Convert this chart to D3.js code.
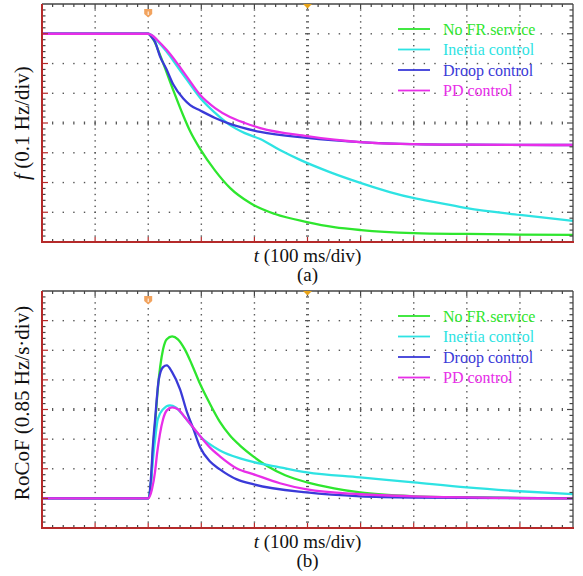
<!DOCTYPE html>
<html>
<head>
<meta charset="utf-8">
<script src="https://cdn.jsdelivr.net/npm/d3@7"></script>
<style>
  body { margin: 0; background: #fff; }
  svg { display: block; }
</style>
</head>
<body>
<svg id="chart" width="583" height="576"></svg>
<script>
// ---------- DATA (time in ms, value in divisions) ----------
const seriesNames = ["No FR service", "Inertia control", "Droop control", "PD control"];
const seriesColors = ["#2ee62e", "#2ee3e3", "#3a3ad8", "#e82ee8"];

// Panel (a): frequency, 0.1 Hz/div
const freqNoFR = [[0,7.0],[200,7.0],[205,6.92],[209,6.82],[213,6.70],[218,6.48],[228,6.02],[247,5.11],[266,4.25],[279,3.72],[298,3.12],[326,2.40],[354,1.82],[392,1.31],[439,0.94],[499,0.67],[550,0.50],[601,0.40],[700,0.30],[800,0.27],[900,0.25],[1000,0.24]];
const freqInertia = [[0,7.0],[200,7.0],[207,6.95],[217,6.76],[235,6.39],[254,5.92],[273,5.45],[298,4.84],[326,4.34],[354,3.93],[382,3.66],[411,3.46],[448,3.09],[486,2.76],[542,2.35],[601,1.98],[655,1.68],[699,1.48],[750,1.31],[800,1.14],[900,0.91],[1000,0.71]];
const freqDroop = [[0,7.0],[200,7.0],[205,6.92],[213,6.72],[222,6.25],[234,5.82],[247,5.30],[266,4.82],[279,4.60],[298,4.42],[326,4.17],[354,3.97],[411,3.70],[499,3.50],[599,3.36],[700,3.29],[800,3.27],[1000,3.26]];
const freqPD = [[0,7.0],[200,7.0],[207,6.95],[217,6.79],[235,6.45],[254,6.02],[273,5.55],[298,4.94],[326,4.50],[354,4.20],[382,4.00],[411,3.83],[499,3.56],[599,3.36],[700,3.29],[800,3.27],[1000,3.26]];

// Panel (b): RoCoF, 0.85 Hz/s/div
const rocofNoFR = [[0,1.0],[200,1.0],[205,1.47],[209,2.66],[213,3.51],[218,4.68],[228,6.03],[235,6.37],[245,6.47],[256,6.37],[269,6.03],[282,5.53],[298,4.85],[316,4.20],[335,3.58],[354,3.12],[373,2.78],[399,2.40],[424,2.09],[458,1.78],[499,1.54],[550,1.34],[599,1.20],[700,1.07],[800,1.03],[1000,1.0]];
const rocofInertia = [[0,1.0],[200,1.0],[205,1.47],[209,2.32],[213,2.99],[218,3.67],[228,4.01],[241,4.14],[252,4.07],[269,3.74],[298,3.09],[335,2.62],[373,2.35],[399,2.22],[448,2.05],[499,1.88],[599,1.71],[700,1.54],[800,1.37],[900,1.24],[1000,1.14]];
const rocofDroop = [[0,1.0],[200,1.0],[205,1.64],[209,2.82],[213,3.67],[220,5.02],[228,5.43],[235,5.49],[245,5.26],[260,4.68],[273,3.91],[284,3.40],[298,2.72],[316,2.25],[335,1.98],[367,1.64],[399,1.47],[499,1.20],[599,1.07],[700,1.03],[1000,1.0]];
const rocofPD = [[0,1.0],[200,1.0],[207,1.30],[213,1.91],[217,2.55],[222,3.16],[228,3.67],[235,3.97],[245,4.07],[256,4.01],[269,3.74],[292,3.23],[316,2.72],[335,2.42],[367,2.01],[399,1.81],[448,1.51],[499,1.30],[599,1.14],[700,1.07],[1000,1.0]];

const xLabel = "(100 ms/div)";
const yLabelA = "(0.1 Hz/div)";
const yLabelB = "RoCoF (0.85 Hz/s·div)";
const panelTags = ["(a)", "(b)"];

// ---------- DRAW ----------
const FONT = "'Liberation Serif', 'Times New Roman', Tinos, serif";
const svg = d3.select("#chart").attr("font-family", FONT);
const X0 = 42, X1 = 573;
const panels = [
  { top: 4, bottom: 242, data: [freqNoFR, freqInertia, freqDroop, freqPD], tag: panelTags[0], ylab: 123 },
  { top: 291, bottom: 528, data: [rocofNoFR, rocofInertia, rocofDroop, rocofPD], tag: panelTags[1], ylab: 403 }
];

const x = d3.scaleLinear().domain([0, 1000]).range([X0, X1]);
const minorX = d3.range(0, 1000.01, 20);
const minorY = d3.range(0, 8.001, 0.2);
const majorX = d3.range(0, 1000.01, 100);
const majorY = d3.range(0, 8.001, 1);

panels.forEach((p, pi) => {
  const y = d3.scaleLinear().domain([0, 8]).range([p.bottom, p.top]);
  const g = svg.append("g");

  // grid dots
  const dots = g.append("g").attr("fill", "#555");
  majorX.slice(1, -1).forEach(tv => {
    if (tv === 500) return;
    minorY.slice(1, -1).forEach(v => {
      dots.append("rect").attr("x", x(tv) - 0.65).attr("y", y(v) - 0.65).attr("width", 1.4).attr("height", 1.4);
    });
  });
  majorY.slice(1, -1).forEach(v => {
    if (v === 4) return;
    minorX.slice(1, -1).forEach(tv => {
      dots.append("rect").attr("x", x(tv) - 0.65).attr("y", y(v) - 0.65).attr("width", 1.4).attr("height", 1.4);
    });
  });
  // center cross
  minorY.slice(1, -1).forEach(v => {
    const w = (Math.abs(v - Math.round(v)) < 1e-6) ? 5 : 3;
    g.append("line").attr("x1", x(500) - w / 2).attr("x2", x(500) + w / 2)
      .attr("y1", y(v)).attr("y2", y(v)).attr("stroke", "#555").attr("stroke-width", 1.3);
  });
  minorX.slice(1, -1).forEach(tv => {
    const h = (tv % 100 === 0) ? 5 : 3;
    g.append("line").attr("x1", x(tv)).attr("x2", x(tv))
      .attr("y1", y(4) - h / 2).attr("y2", y(4) + h / 2).attr("stroke", "#555").attr("stroke-width", 1.3);
  });

  // traces
  const line = d3.line().x(d => x(d[0])).y(d => y(d[1])).curve(d3.curveMonotoneX);
  p.data.forEach((s, si) => {
    g.append("path").datum(s).attr("d", line).attr("fill", "none")
      .attr("stroke", seriesColors[si]).attr("stroke-width", 2.3).attr("stroke-linejoin", "round");
  });

  // frame: top & right dark
  g.append("line").attr("x1", X0).attr("x2", X1).attr("y1", p.top).attr("y2", p.top).attr("stroke", "#444").attr("stroke-width", 1.3);
  g.append("line").attr("x1", X1).attr("x2", X1).attr("y1", p.top).attr("y2", p.bottom).attr("stroke", "#444").attr("stroke-width", 1.3);
  minorX.slice(1, -1).forEach(tv => {
    const l = (tv % 100 === 0) ? 5 : 3;
    g.append("line").attr("x1", x(tv)).attr("x2", x(tv)).attr("y1", p.top).attr("y2", p.top + l).attr("stroke", "#444").attr("stroke-width", 1.2);
    g.append("line").attr("x1", x(tv)).attr("x2", x(tv)).attr("y1", p.bottom).attr("y2", p.bottom - l)
      .attr("stroke", (tv % 100 === 0) ? "#b52a2a" : "#444").attr("stroke-width", 1.2);
  });
  minorY.slice(1, -1).forEach(v => {
    const l = (Math.abs(v - Math.round(v)) < 1e-6) ? 6 : 3.5;
    g.append("line").attr("x1", X1).attr("x2", X1 - l).attr("y1", y(v)).attr("y2", y(v)).attr("stroke", "#444").attr("stroke-width", 1.2);
    g.append("line").attr("x1", X0).attr("x2", X0 + l).attr("y1", y(v)).attr("y2", y(v))
      .attr("stroke", (l > 5) ? "#b52a2a" : "#444").attr("stroke-width", 1.2);
  });
  // left & bottom red axes
  g.append("line").attr("x1", X0).attr("x2", X0).attr("y1", p.top).attr("y2", p.bottom + 1).attr("stroke", "#b52a2a").attr("stroke-width", 2);
  g.append("line").attr("x1", X0 - 1).attr("x2", X1 + 1).attr("y1", p.bottom).attr("y2", p.bottom).attr("stroke", "#b52a2a").attr("stroke-width", 2);

  // markers
  const tx = x(200);
  g.append("path").attr("d", `M${tx - 4},${p.top + 5} L${tx + 4},${p.top + 5} L${tx + 4},${p.top + 10} L${tx},${p.top + 13.5} L${tx - 4},${p.top + 10} Z`)
    .attr("fill", "#f2a35e");
  g.append("line").attr("x1", tx).attr("x2", tx).attr("y1", p.top + 7.5).attr("y2", p.top + 11).attr("stroke", "#fff").attr("stroke-width", 1);
  const cx = x(500);
  g.append("path").attr("d", `M${cx - 4.5},${p.top} L${cx + 4.5},${p.top} L${cx},${p.top + 4.5} Z`).attr("fill", "#e8a318");

  // legend
  const lx = 398, lt = p.top + 25, ls = 20.5;
  seriesNames.forEach((n, si) => {
    const ly = lt + si * ls;
    g.append("line").attr("x1", lx).attr("x2", lx + 32).attr("y1", ly).attr("y2", ly)
      .attr("stroke", seriesColors[si]).attr("stroke-width", 1.8);
    g.append("text").attr("x", lx + 45).attr("y", ly + 5.5).attr("fill", seriesColors[si])
      .attr("font-family", FONT).attr("font-size", 16).text(n);
  });

  // x label
  const xl = g.append("text").attr("x", x(500)).attr("y", p.bottom + 20).attr("text-anchor", "middle")
    .attr("font-family", FONT).attr("font-size", 19).attr("fill", "#111");
  xl.append("tspan").attr("font-style", "italic").text("t");
  xl.append("tspan").text(" " + xLabel);
  g.append("text").attr("x", x(500)).attr("y", p.bottom + 39).attr("text-anchor", "middle")
    .attr("font-family", FONT).attr("font-size", 19).attr("fill", "#111").text(p.tag);

  // y label
  const yl = g.append("text").attr("transform", `translate(29,${p.ylab}) rotate(-90)`).attr("text-anchor", "middle")
    .attr("font-family", FONT).attr("font-size", 21).attr("fill", "#111");
  if (pi === 0) {
    yl.append("tspan").attr("font-style", "italic").text("f");
    yl.append("tspan").text(" " + yLabelA);
  } else {
    yl.text(yLabelB);
  }
});
</script>
</body>
</html>
